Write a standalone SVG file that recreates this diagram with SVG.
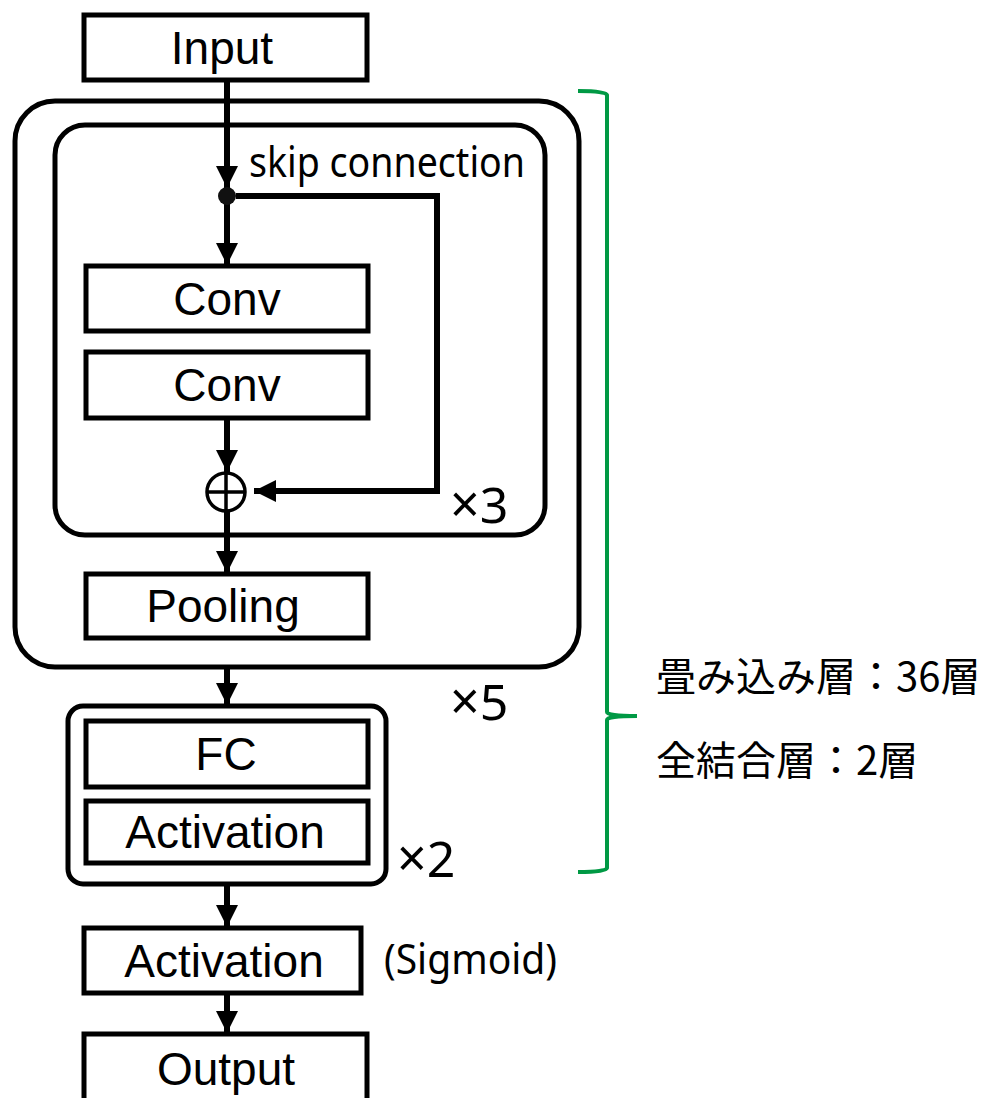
<svg xmlns="http://www.w3.org/2000/svg" width="983" height="1098" viewBox="0 0 983 1098">
<style>
.box{fill:#fff;stroke:#000;stroke-width:5}
.grp{fill:none;stroke:#000;stroke-width:5}
.lbl{font-family:"Liberation Sans",Arial,sans-serif;font-size:46px;text-anchor:middle;fill:#000}
.note{font-family:"Noto Sans","Noto Sans CJK JP",sans-serif;fill:#000}
.mul{font-family:"Noto Sans","Noto Sans CJK JP",sans-serif;font-size:50px;fill:#000}
.x{font-size:52px}
.jp{font-family:"Noto Sans CJK JP",sans-serif;font-size:40px;fill:#000}
.ln{fill:none;stroke:#000;stroke-width:6}
</style>
<defs>
<marker id="ah" markerUnits="userSpaceOnUse" markerWidth="22" markerHeight="22" viewBox="0 0 22 22" refX="22" refY="11" orient="auto">
<path d="M0,0 L22,11 L0,22 Z" fill="#000"/>
</marker>
</defs>
<g id="connectors">
<line class="ln" x1="227" y1="80" x2="227" y2="188" marker-end="url(#ah)"/>
<line class="ln" x1="227" y1="204" x2="227" y2="265" marker-end="url(#ah)"/>
<path class="ln" d="M236,196 H437 V491 H254" marker-end="url(#ah)"/>
<line class="ln" x1="227" y1="418" x2="227" y2="472" marker-end="url(#ah)"/>
<line class="ln" x1="227" y1="512" x2="227" y2="573" marker-end="url(#ah)"/>
<line class="ln" x1="227" y1="668" x2="227" y2="705" marker-end="url(#ah)"/>
<line class="ln" x1="227" y1="885" x2="227" y2="927" marker-end="url(#ah)"/>
<line class="ln" x1="227" y1="993" x2="227" y2="1033" marker-end="url(#ah)"/>
</g>
<g id="input"><rect class="box" x="84" y="15" width="283" height="65"/><text class="lbl" x="222" y="64">Input</text></g>
<g id="outer-block"><rect class="grp" x="15" y="101" width="564" height="566" rx="40"/><text class="mul" x="450" y="720"><tspan class="x">×</tspan>5</text></g>
<g id="residual-block"><rect class="grp" x="55" y="125" width="490" height="410" rx="30"/><text class="mul" x="450" y="523"><tspan class="x">×</tspan>3</text></g>
<g id="skip"><circle cx="227" cy="196" r="9" fill="#111"/><text class="note" x="249" y="177" font-size="41" textLength="276" lengthAdjust="spacingAndGlyphs">skip connection</text></g>
<g id="conv1"><rect class="box" x="86" y="266" width="282" height="65"/><text class="lbl" x="227" y="315">Conv</text></g>
<g id="conv2"><rect class="box" x="86" y="352" width="282" height="66"/><text class="lbl" x="227" y="401">Conv</text></g>
<g id="add"><circle cx="226" cy="492" r="19" fill="#fff" stroke="#000" stroke-width="3.5"/><path d="M207,492 H245 M226,473 V511" stroke="#000" stroke-width="3.5"/></g>
<g id="pooling"><rect class="box" x="86" y="574" width="282" height="64"/><text class="lbl" x="223" y="622">Pooling</text></g>
<g id="fc-block"><rect class="grp" x="68" y="706" width="318" height="178" rx="15"/><text class="mul" x="397" y="877"><tspan class="x">×</tspan>2</text></g>
<g id="fc"><rect class="box" x="86" y="721" width="282" height="66"/><text class="lbl" x="226" y="770">FC</text></g>
<g id="act1"><rect class="box" x="86" y="801" width="282" height="62"/><text class="lbl" x="225" y="848">Activation</text></g>
<g id="act2"><rect class="box" x="84" y="928" width="277" height="65"/><text class="lbl" x="224" y="977">Activation</text><text class="note" x="384" y="974" font-size="42" textLength="173" lengthAdjust="spacingAndGlyphs">(Sigmoid)</text></g>
<g id="output"><rect class="box" x="84" y="1034" width="283" height="70"/><text class="lbl" x="226" y="1085">Output</text></g>
<g id="bracket"><path d="M578,91 Q606,91 607,95 V712 Q607,716 637,716 Q607,716 607,720 V868 Q606,872 578,872" fill="none" stroke="#009944" stroke-width="4"/></g>
<g id="summary"><text class="jp" x="656" y="691">畳み込み層：36層</text><text class="jp" x="656" y="775">全結合層：2層</text></g>
</svg>
